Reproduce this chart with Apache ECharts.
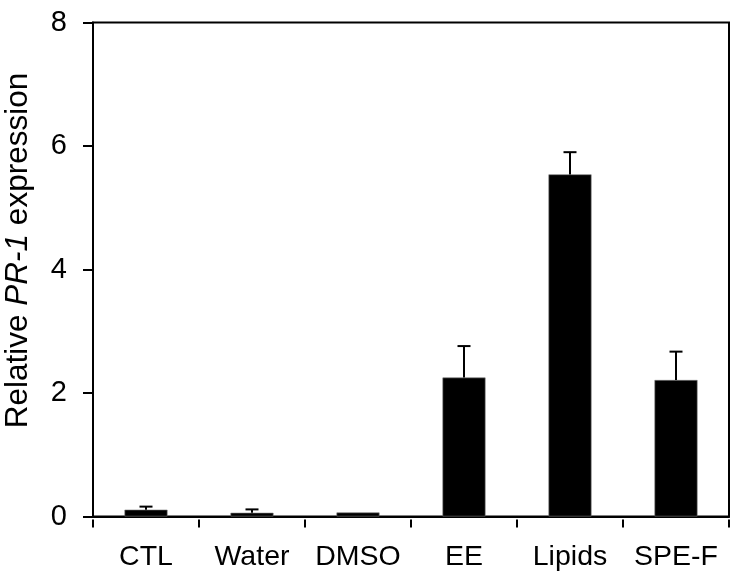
<!DOCTYPE html>
<html>
<head>
<meta charset="utf-8">
<script src="https://cdn.jsdelivr.net/npm/echarts@6/dist/echarts.min.js"></script>
<style>html,body{margin:0;padding:0;background:#fff;}#c{width:731px;height:572px;}</style>
</head>
<body>
<div id="c"></div>
<script>
var categories = ['CTL', 'Water', 'DMSO', 'EE', 'Lipids', 'SPE-F'];
var means = [0.11, 0.06, 0.065, 2.25, 5.54, 2.21];
var errors = [0.05, 0.055, 0, 0.51, 0.36, 0.46];
var yTicks = [0, 2, 4, 6, 8];

var chart = echarts.init(document.getElementById('c'), null, {renderer: 'canvas'});
var font = 'Liberation Sans, Arial, Helvetica, sans-serif';
var errData = means.map(function (m, i) { return [i, m, m + errors[i]]; });

chart.setOption({
  animation: false,
  backgroundColor: '#fff',
  grid: {left: 93, right: 2, top: 22.5, bottom: 55.5, show: true, borderColor: '#000', borderWidth: 2, containLabel: false, outerBoundsMode: 'none'},
  xAxis: [{
    type: 'category', data: categories, boundaryGap: true,
    axisLine: {show: true, lineStyle: {color: '#000', width: 2}},
    axisTick: {show: false},
    axisLabel: {color: '#000', fontSize: 28.5, fontFamily: font, margin: 26, interval: 0, hideOverlap: false}
  }, {
    type: 'category', data: categories, boundaryGap: true, position: 'bottom', offset: 3,
    axisLine: {show: false},
    axisTick: {show: true, length: 8, interval: 0, lineStyle: {color: '#000', width: 2}},
    axisLabel: {show: false}
  }],
  yAxis: {
    type: 'value', min: yTicks[0], max: yTicks[yTicks.length - 1], interval: 2,
    name: '{a|Relative }{b|PR-1}{a| expression}',
    nameLocation: 'middle', nameGap: 59,
    nameTextStyle: {padding: [0, 0, 0, 38], rich: {
      a: {fontSize: 31.5, fontFamily: font, color: '#000'},
      b: {fontSize: 31.5, fontFamily: font, color: '#000', fontStyle: 'italic'}
    }},
    axisLine: {show: true, lineStyle: {color: '#000', width: 2}},
    axisTick: {show: true, length: 10, lineStyle: {color: '#000', width: 2}},
    splitLine: {show: false},
    axisLabel: {color: '#000', fontSize: 29, fontFamily: font, margin: 26}
  },
  series: [{
    type: 'bar', data: means, barWidth: 43,
    itemStyle: {color: '#000', borderColor: '#777', borderWidth: 0.6}
  }, {
    type: 'custom', data: errData,
    renderItem: function (params, api) {
      var i = api.value(0);
      if (api.value(2) - api.value(1) <= 0) return null;
      var p0 = api.coord([i, api.value(1)]);
      var p1 = api.coord([i, api.value(2)]);
      var hw = 6.5;
      return {type: 'group', children: [
        {type: 'line', shape: {x1: p0[0], y1: p0[1], x2: p1[0], y2: p1[1]}, style: {stroke: '#000', lineWidth: 2}},
        {type: 'line', shape: {x1: p1[0] - hw, y1: p1[1], x2: p1[0] + hw, y2: p1[1]}, style: {stroke: '#000', lineWidth: 2}}
      ]};
    },
    encode: {x: 0, y: [1, 2]}, z: 3
  }]
});
</script>
</body>
</html>
